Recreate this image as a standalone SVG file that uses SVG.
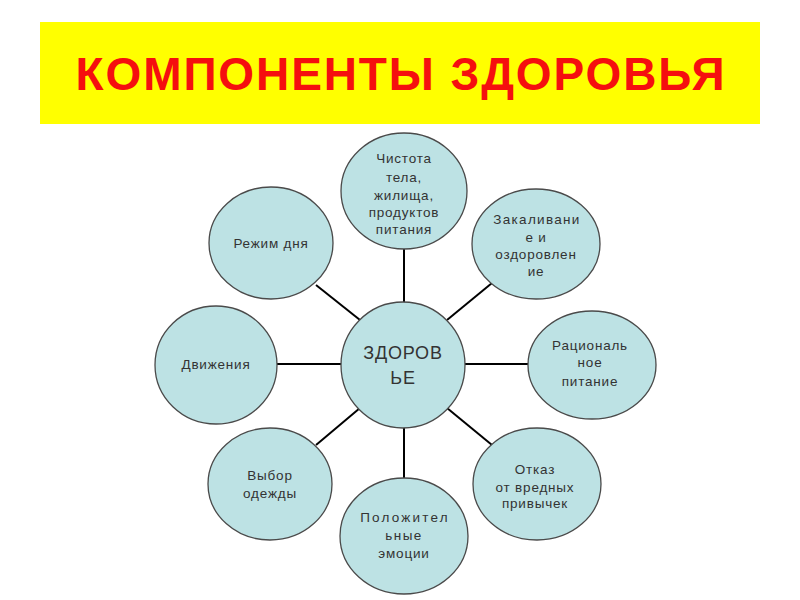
<svg xmlns="http://www.w3.org/2000/svg" width="800" height="600" viewBox="0 0 800 600">
<style>
.node ellipse{fill:#bde2e4;stroke:#4a4a4a;stroke-width:1.3}
.node text{font-family:"Liberation Sans",Arial,sans-serif;font-size:13.5px;fill:#333;text-anchor:middle;letter-spacing:0.8px}
#connectors line{stroke:#000;stroke-width:2}
.title{font-family:"Liberation Sans",Arial,sans-serif;font-weight:bold;font-size:46px;fill:#f50f0f;text-anchor:middle;letter-spacing:1.9px}
</style>
<rect x="0" y="0" width="800" height="600" fill="#fff"/>
<g id="banner">
<rect x="40" y="22" width="720" height="102" fill="#ffff00"/>
<text class="title" x="401" y="90">КОМПОНЕНТЫ ЗДОРОВЬЯ</text>
</g>
<g id="connectors">
<line x1="404" y1="249" x2="404" y2="303"/>
<line x1="492" y1="283" x2="447" y2="320"/>
<line x1="465" y1="364" x2="528" y2="364"/>
<line x1="447" y1="408" x2="492" y2="445"/>
<line x1="404" y1="427" x2="404" y2="478"/>
<line x1="316" y1="445" x2="360" y2="408"/>
<line x1="277" y1="364" x2="342" y2="364"/>
<line x1="316" y1="285" x2="360" y2="320"/>
</g>
<g id="center" class="node">
<ellipse cx="403" cy="365" rx="62" ry="63"/>
<text x="403" y="359" style="font-size:18px">ЗДОРОВ</text>
<text x="403" y="384" style="font-size:18px">ЬЕ</text>
</g>
<g id="n-clean" class="node">
<ellipse cx="404" cy="191" rx="63" ry="58"/>
<text x="404" y="163">Чистота</text>
<text x="404" y="182">тела,</text>
<text x="404" y="200">жилища,</text>
<text x="404" y="217">продуктов</text>
<text x="404" y="234">питания</text>
</g>
<g id="n-harden" class="node">
<ellipse cx="536" cy="244" rx="64" ry="55"/>
<text x="537" y="224" style="letter-spacing:1.3px">Закаливани</text>
<text x="536" y="242">е и</text>
<text x="536" y="259">оздоровлен</text>
<text x="536" y="276">ие</text>
</g>
<g id="n-food" class="node">
<ellipse cx="592" cy="365" rx="64" ry="54"/>
<text x="590" y="350">Рациональ</text>
<text x="590" y="367">ное</text>
<text x="590" y="386">питание</text>
</g>
<g id="n-habits" class="node">
<ellipse cx="537" cy="484" rx="64" ry="56"/>
<text x="535" y="474">Отказ</text>
<text x="535" y="492">от вредных</text>
<text x="535" y="508">привычек</text>
</g>
<g id="n-emotions" class="node">
<ellipse cx="404" cy="536" rx="64" ry="58"/>
<text x="405" y="522" style="letter-spacing:2.2px">Положител</text>
<text x="404" y="540" style="letter-spacing:1.5px">ьные</text>
<text x="404" y="558">эмоции</text>
</g>
<g id="n-clothes" class="node">
<ellipse cx="270" cy="484" rx="62" ry="56"/>
<text x="270" y="480">Выбор</text>
<text x="270" y="498">одежды</text>
</g>
<g id="n-move" class="node">
<ellipse cx="216" cy="365" rx="61" ry="59"/>
<text x="216" y="369">Движения</text>
</g>
<g id="n-routine" class="node">
<ellipse cx="271" cy="243" rx="62" ry="56"/>
<text x="271" y="248">Режим дня</text>
</g>
</svg>
